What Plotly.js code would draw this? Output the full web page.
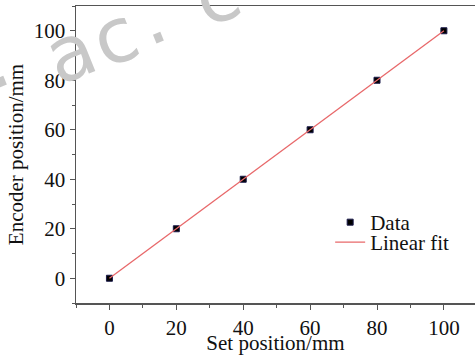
<!DOCTYPE html>
<html>
<head>
<meta charset="utf-8">
<script src="https://cdn.plot.ly/plotly-3.0.1.min.js"></script>
<style>html,body{margin:0;padding:0;background:#fff;}#chart{width:475px;height:355px;}</style>
</head>
<body>
<div id="chart"></div>
<script>
const setPos = [0, 20, 40, 60, 80, 100];
const encoderPos = [0, 20, 40, 60, 80, 100];
const fitX = [0, 100];
const fitY = [0, 100];
const xTickVals = [0, 20, 40, 60, 80, 100];
const yTickVals = [0, 20, 40, 60, 80, 100];
const xTitle = 'Set position/mm';
const yTitle = 'Encoder position/mm';

const font = {family: 'Liberation Serif, Times New Roman, serif', color: '#111', size: 21};

const traces = [
  {
    x: setPos, y: encoderPos, type: 'scatter', mode: 'markers', name: 'Data', legend: 'legend',
    marker: {symbol: 'square', size: 6, color: '#000', line: {color: '#1a1a4a', width: 1}}
  },
  {
    x: fitX, y: fitY, type: 'scatter', mode: 'lines', name: 'Linear fit', legend: 'legend2',
    line: {color: '#e8686a', width: 1.3}
  }
];

const axisCommon = {
  showgrid: false, zeroline: false, showline: true, linecolor: '#555', linewidth: 1.5,
  ticks: 'outside', ticklen: 5, tickwidth: 1, tickcolor: '#555',
  minor: {ticks: 'outside', ticklen: 3, tickwidth: 1, tickcolor: '#555', dtick: 10},
  tickfont: font
};

const wm = {family: 'DejaVu Sans', size: 76, color: 'rgb(200,200,200)'};
const wmChars = ['.', 'a', 'c', '.', 'c'];
const wmX = [-7, 70, 115, 150, 216];
const wmY = [61, 53, 37, 17, -5];
const pl = 76, pw = 399, pt = 6, ph = 297;

const legendBase = {xanchor: 'left', yanchor: 'middle', bgcolor: 'rgba(0,0,0,0)', font: font, itemwidth: 30};

const layout = {
  width: 475, height: 355,
  margin: {l: pl, r: 0, t: pt, b: 52},
  paper_bgcolor: '#fff', plot_bgcolor: '#fff',
  font: font,
  showlegend: true,
  legend: Object.assign({}, legendBase, {x: 0.637, y: 0.271}),
  legend2: Object.assign({}, legendBase, {x: 0.637, y: 0.204}),
  xaxis: Object.assign({}, axisCommon, {
    range: [-10, 109.3], tickvals: xTickVals, mirror: true,
    title: {text: xTitle, font: font, standoff: 2}
  }),
  yaxis: Object.assign({}, axisCommon, {
    range: [-10, 110], tickvals: yTickVals, mirror: false,
    title: {text: yTitle, font: font, standoff: 4}
  }),
  annotations: wmChars.map((c, i) => ({
    xref: 'paper', yref: 'paper', xanchor: 'center', yanchor: 'middle',
    x: (wmX[i] - pl) / pw, y: (pt + ph - wmY[i]) / ph, text: c, showarrow: false,
    textangle: -22, font: wm
  }))
};

Plotly.newPlot('chart', traces, layout, {displayModeBar: false, staticPlot: true});
</script>
</body>
</html>
